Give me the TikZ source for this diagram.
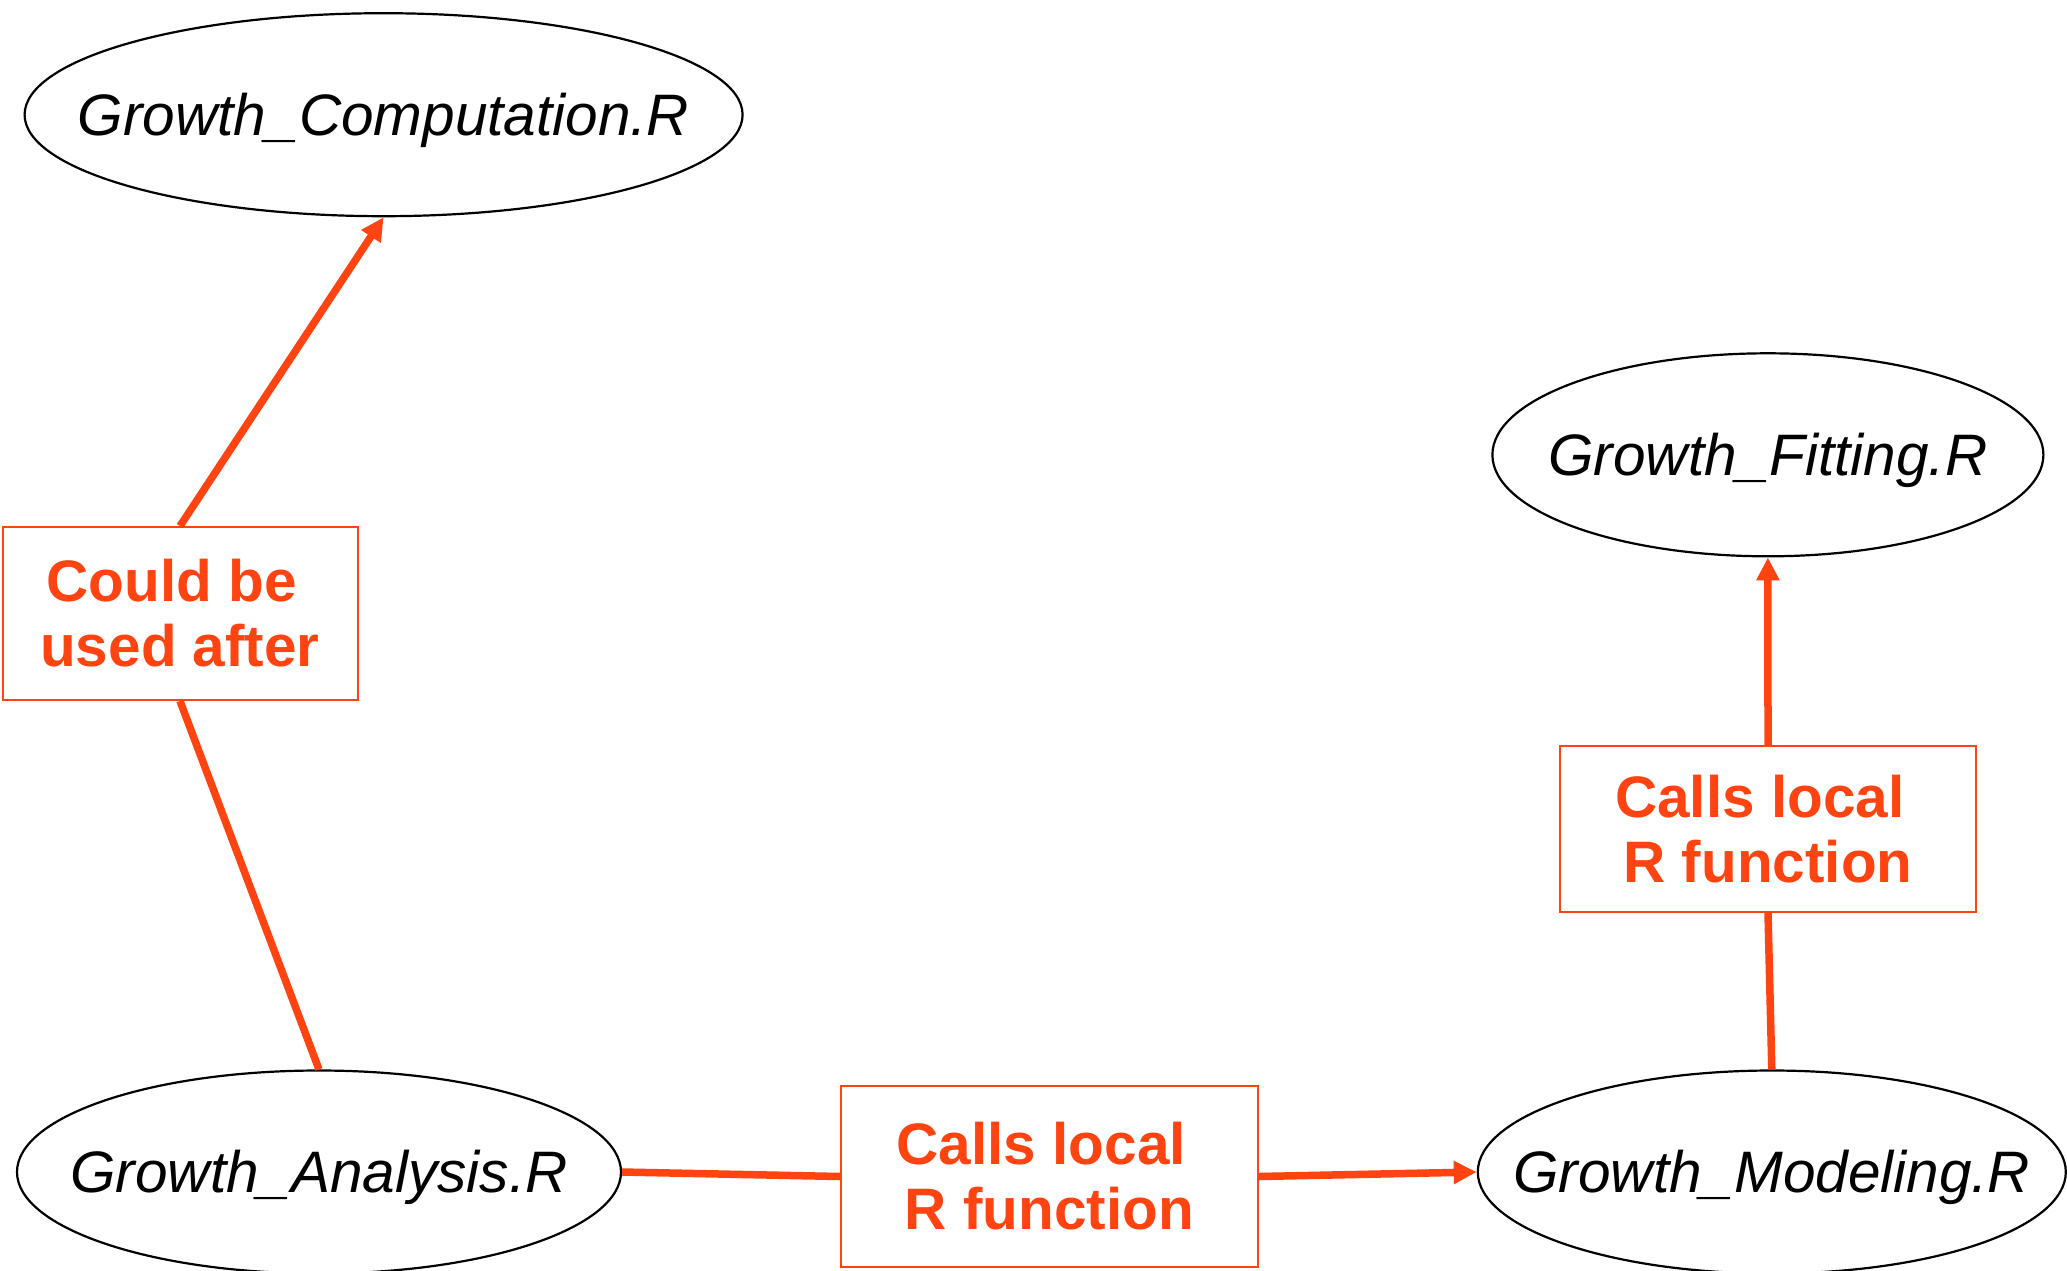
\documentclass[tikz,border=0pt]{standalone}
\usepackage{fontspec}
\setmainfont{Liberation Sans}
\usetikzlibrary{shapes.geometric,arrows.meta}
\definecolor{edgeorange}{HTML}{FF4311}

\begin{document}
\begin{tikzpicture}[x=1pt,y=-1pt,
  file/.style={ellipse,draw=black,line width=2.2pt,inner sep=0pt,
    text height=41pt,text depth=0pt,
    font=\fontsize{58.5}{70}\selectfont\itshape},
  tag/.style={rectangle,draw=edgeorange,line width=2pt,inner sep=0pt,
    align=center,text=edgeorange,font=\fontsize{58.5}{65}\selectfont\bfseries},
  link/.style={draw=edgeorange,line width=7.5pt},
  flow/.style={link,-{Triangle[length=23pt,width=22pt]}}]
\useasboundingbox (0,0) rectangle (2067,1270);

% script files (label kept zero-width so the ellipse size is set by hand)
\node[file,minimum width=718pt,minimum height=203pt] (comp) at (383.6,114.7) {\makebox[0pt]{Growth\_Computation.R}};
\node[file,minimum width=551pt,minimum height=203pt] (fit) at (1767.9,454.8) {\makebox[0pt]{Growth\_Fitting.R}};
\node[file,minimum width=604pt,minimum height=203pt] (ana) at (319,1172) {\makebox[0pt]{Growth\_Analysis.R}};
\node[file,minimum width=588pt,minimum height=203pt] (mod) at (1771.8,1172) {\makebox[0pt]{Growth\_Modeling.R}};

% edge labels
\node[tag,minimum width=355pt,minimum height=173pt] (after) at (180,613.5) {Could be\hspace*{0.278em}\\used after};
\node[tag,minimum width=417pt,minimum height=181pt] (callA) at (1049.5,1176.5) {Calls local\hspace*{0.278em}\\R function};
\node[tag,minimum width=416pt,minimum height=166pt] (callB) at (1768,829) {Calls local\hspace*{0.278em}\\R function};

% connectors
\draw[link] (ana.north) -- (after.south);
\draw[flow] (after.north) -- (comp.south);
\draw[link] (ana.east) -- (callA.west);
\draw[flow] (callA.east) -- (mod.west);
\draw[link] (mod.north) -- (callB.south);
\draw[flow] (callB.north) -- (fit.south);
\end{tikzpicture}
\end{document}
